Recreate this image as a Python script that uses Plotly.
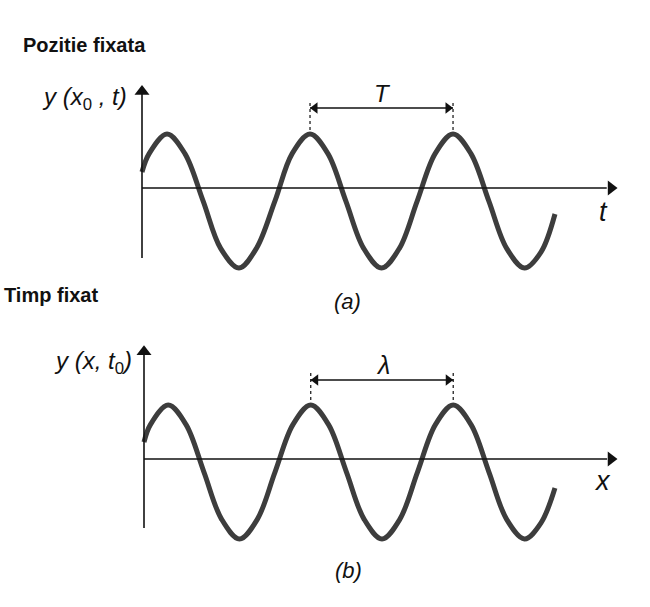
import plotly.graph_objects as go

# ---- data ----
# panel (a): wave vs t (1 unit = one period T), axis at y=0
t_a = [0.0, 0.05, 0.175, 0.30, 0.427, 0.55, 0.678, 0.80, 0.93, 1.05, 1.175, 1.30, 1.425, 1.55,
       1.675, 1.80, 1.925, 2.05, 2.175, 2.30, 2.425, 2.55, 2.675, 2.79, 2.888]
y_a = [0.237, 0.509, 0.80, 0.509, -0.19, -0.894, -1.185, -0.894, -0.19, 0.509, 0.80, 0.509, -0.19, -0.894,
       -1.185, -0.894, -0.19, 0.509, 0.80, 0.509, -0.19, -0.894, -1.185, -0.95, -0.385]
# panel (b): wave vs x (1 unit = one wavelength)
x_b = [0.0, 0.045, 0.17, 0.295, 0.42, 0.545, 0.67, 0.795, 0.92, 1.045, 1.17, 1.295, 1.42, 1.545,
       1.67, 1.795, 1.92, 2.045, 2.17, 2.295, 2.42, 2.545, 2.67, 2.785, 2.884]
y_b = [0.25, 0.509, 0.80, 0.509, -0.19, -0.894, -1.185, -0.894, -0.19, 0.509, 0.80, 0.509, -0.19, -0.894,
       -1.185, -0.894, -0.19, 0.509, 0.80, 0.509, -0.19, -0.894, -1.185, -0.95, -0.43]

period_a = [1.175, 2.175]
period_b = [1.17, 2.17]

WAVE = "#3d3d3d"
INK = "#111111"
FONT = "Liberation Sans, Arial, sans-serif"

fig = go.Figure()
fig.add_trace(go.Scatter(x=t_a, y=y_a, mode="lines", line=dict(color=WAVE, width=5, shape="spline", smoothing=1.0),
                         xaxis="x", yaxis="y", hoverinfo="skip", showlegend=False))
fig.add_trace(go.Scatter(x=x_b, y=y_b, mode="lines", line=dict(color=WAVE, width=5, shape="spline", smoothing=1.0),
                         xaxis="x2", yaxis="y2", hoverinfo="skip", showlegend=False))

ann = []
shapes = []

def line(xr, yr, x0, y0, x1, y1, width=1.6, dash=None, color=INK):
    d = dict(color=color, width=width)
    if dash:
        d["dash"] = dash
    shapes.append(dict(type="line", xref=xr, yref=yr, x0=x0, x1=x1, y0=y0, y1=y1, line=d))

def heads(xa, ya, xs, ys, symbols, size):
    fig.add_trace(go.Scatter(x=xs, y=ys, mode="markers", xaxis=xa, yaxis=ya, hoverinfo="skip", showlegend=False,
                             marker=dict(symbol=symbols, size=size, color=INK, line=dict(width=0))))

def label(xr, yr, x, y, text, size, xanchor="center"):
    ann.append(dict(xref=xr, yref=yr, x=x, y=y, text=text, showarrow=False,
                    xanchor=xanchor, yanchor="middle", font=dict(family=FONT, size=size, color=INK)))

# panel (a) axes
line("x", "y", 0, -1.037, 0, 1.40)
line("x", "y", 0, 0, 3.25, 0)
heads("x", "y", [0], [1.43], ["triangle-up"], 13)
heads("x", "y", [3.28], [0], ["triangle-right"], 13)
for px in period_a:
    line("x", "y", px, 0.86, px, 1.26, width=1.3, dash="3px,3px", color="#222")
line("x", "y", period_a[0], 1.185, period_a[1], 1.185, width=1.4)
heads("x", "y", [period_a[0] + 0.035, period_a[1] - 0.035], [1.185, 1.185], ["triangle-left", "triangle-right"], 10)
label("x", "y", 1.685, 1.40, "<i>T</i>", 24)
label("x", "y", 3.23, -0.356, "<i>t</i>", 27)
label("x", "y", -0.09, 1.333, "<i>y (x</i><sub>0</sub><i> , t)</i>", 24, xanchor="right")

# panel (b) axes
line("x2", "y2", 0, -1.022, 0, 1.56)
line("x2", "y2", 0, 0, 3.25, 0)
heads("x2", "y2", [0], [1.59], ["triangle-up"], 13)
heads("x2", "y2", [3.277], [0], ["triangle-right"], 13)
for px in period_b:
    line("x2", "y2", px, 0.874, px, 1.274, width=1.3, dash="3px,3px", color="#222")
line("x2", "y2", period_b[0], 1.17, period_b[1], 1.17, width=1.4)
heads("x2", "y2", [period_b[0] + 0.035, period_b[1] - 0.035], [1.17, 1.17], ["triangle-left", "triangle-right"], 10)
label("x2", "y2", 1.677, 1.39, "<i>λ</i>", 25)
label("x2", "y2", 3.221, -0.326, "<i>x</i>", 27)
label("x2", "y2", -0.07, 1.437, "<i>y (x, t</i><sub>0</sub><i>)</i>", 24, xanchor="right")

# titles and captions
ann.append(dict(xref="paper", yref="paper", x=21/650, y=1-45/607, text="<b>Pozitie fixata</b>", showarrow=False,
                xanchor="left", yanchor="middle", font=dict(family=FONT, size=20, color=INK)))
ann.append(dict(xref="paper", yref="paper", x=2/650, y=1-295/607, text="<b>Timp fixat</b>", showarrow=False,
                xanchor="left", yanchor="middle", font=dict(family=FONT, size=20, color=INK)))
ann.append(dict(xref="paper", yref="paper", x=347/650, y=1-302/607, text="<i>(a)</i>", showarrow=False,
                xanchor="center", yanchor="middle", font=dict(family=FONT, size=22, color=INK)))
ann.append(dict(xref="paper", yref="paper", x=348/650, y=1-570/607, text="<i>(b)</i>", showarrow=False,
                xanchor="center", yanchor="middle", font=dict(family=FONT, size=22, color=INK)))

ax_common = dict(visible=False, fixedrange=True)
fig.update_layout(
    width=650, height=607, margin=dict(l=0, r=0, t=0, b=0),
    paper_bgcolor="white", plot_bgcolor="white", showlegend=False,
    xaxis=dict(domain=[0, 1], range=[-142/143, 508/143], anchor="y", **ax_common),
    yaxis=dict(domain=[0.5, 1], range=[-1.711, 2.785], anchor="x", **ax_common),
    xaxis2=dict(domain=[0, 1], range=[-144/142.5, 506/142.5], anchor="y2", **ax_common),
    yaxis2=dict(domain=[0, 0.5], range=[-2.193, 2.304], anchor="x2", **ax_common),
    annotations=ann, shapes=shapes,
)

fig.write_html("out.html", config={"displayModeBar": False},
               post_script="document.body.style.margin='0px';document.body.style.overflow='hidden';")
